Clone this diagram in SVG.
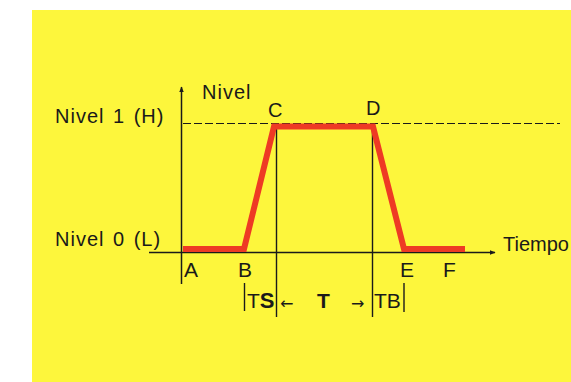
<svg xmlns="http://www.w3.org/2000/svg" width="571" height="382" viewBox="0 0 571 382">
<style>
text{font-family:"Liberation Sans",Arial,sans-serif;font-size:20px;fill:#1a1a1a}
.lbl{letter-spacing:1px}
.pt{font-size:21px}
.arr{font-family:"DejaVu Sans",sans-serif;font-size:16px}
.ax{stroke:#1a1a1a;stroke-width:1.5;fill:none}
.thin{stroke:#1a1a1a;stroke-width:1.4;fill:none}
</style>
<defs>
<marker id="ah" viewBox="0 0 10 10" refX="9" refY="5" markerWidth="6" markerHeight="6" orient="auto" markerUnits="userSpaceOnUse"><path d="M0,1 L10,5 L0,9 z" fill="#1a1a1a"/></marker>
</defs>
<rect x="0" y="0" width="571" height="382" fill="#ffffff"/>
<rect x="32" y="10" width="539" height="372" fill="#fdf63c"/>
<g id="connectors">
<line class="ax" x1="149" y1="252.5" x2="495" y2="252.5" marker-end="url(#ah)"/>
<line class="ax" x1="181.5" y1="284" x2="181.5" y2="87" marker-end="url(#ah)"/>
<line x1="183" y1="123.5" x2="560" y2="123.5" stroke="#1a1a1a" stroke-width="1" stroke-dasharray="8,3"/>
<line class="thin" x1="276.5" y1="126" x2="276.5" y2="317"/>
<line class="thin" x1="372.5" y1="126" x2="372.5" y2="317"/>
<line class="thin" x1="244.5" y1="283" x2="244.5" y2="311"/>
<line class="thin" x1="404" y1="283" x2="404" y2="312"/>
<polyline points="183,249 244,249 274,126.5 373,126.5 404,249 465,249" fill="none" stroke="#ee3a24" stroke-width="6" stroke-linejoin="miter"/>
</g>
<g id="labels">
<text class="lbl" x="55" y="123" word-spacing="2">Nivel 1 (H)</text>
<text class="lbl" x="55" y="246" word-spacing="2">Nivel 0 (L)</text>
<text class="lbl" x="202" y="99" font-size="19">Nivel</text>
<text x="268" y="117" font-size="17">C</text>
<text x="366" y="115" font-size="17">D</text>
<text x="503" y="251">Tiempo</text>
<text class="pt" x="184" y="277">A</text>
<text class="pt" x="238" y="277">B</text>
<text class="pt" x="400" y="277">E</text>
<text class="pt" x="443" y="277">F</text>
<text class="pt" x="247" y="308">T<tspan font-weight="bold" font-size="22">S</tspan></text>
<text class="arr" x="280" y="309">←</text>
<text class="pt" x="317" y="308" font-weight="bold">T</text>
<text class="arr" x="351" y="309">→</text>
<text class="pt" x="374" y="308">TB</text>
</g>
</svg>
